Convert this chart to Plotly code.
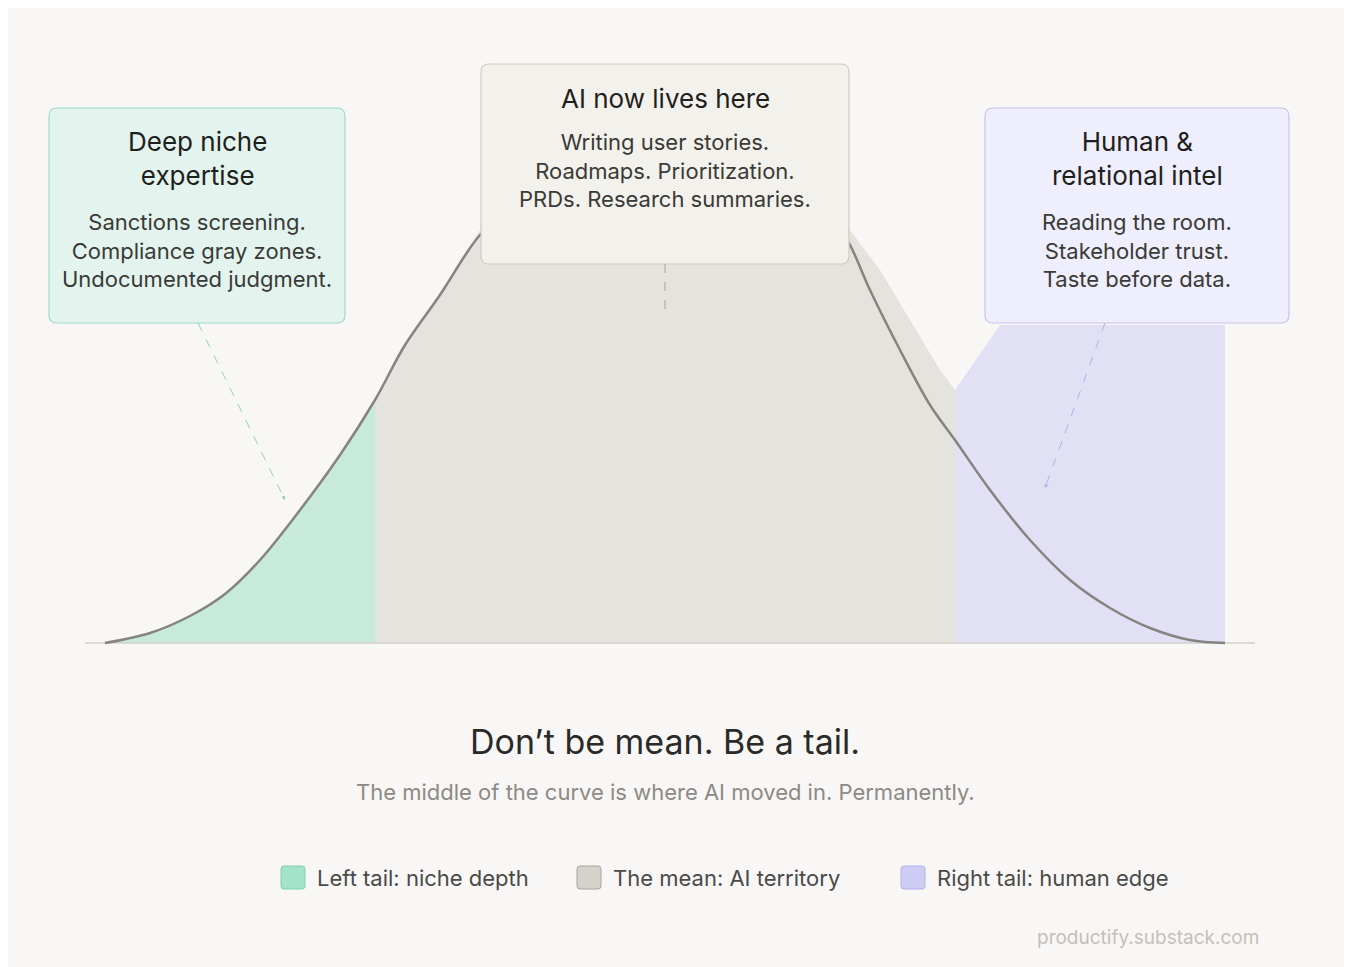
import plotly.graph_objects as go

# curve (x px, y px)
curve_x = [105, 150, 190, 225, 260, 300, 340, 375, 405, 440, 480, 520, 580, 665, 750, 810, 835, 850, 870, 900, 930, 955, 990, 1030, 1070, 1110, 1150, 1190, 1225]
curve_y = [643, 633, 616, 594, 560, 510, 455, 400, 345, 295, 235, 200, 180, 172, 180, 200, 222, 245, 290, 350, 405, 440, 490, 540, 580, 608, 628, 640, 643]

left_x = [105, 150, 190, 225, 260, 300, 340, 375, 375]
left_y = [643, 633, 616, 594, 560, 510, 455, 400, 643]

mid_x = [375, 375, 405, 440, 480, 520, 580, 665, 750, 810, 850, 880, 910, 940, 955, 955]
mid_y = [643, 400, 345, 292, 230, 198, 180, 172, 180, 198, 230, 270, 320, 370, 390, 643]

right_x = [955, 955, 1000, 1225, 1225]
right_y = [643, 390, 325, 325, 643]

legend_labels = ["Left tail: niche depth", "The mean: AI territory", "Right tail: human edge"]

font = "Inter, Lato, sans-serif"
fig = go.Figure()
fig.add_trace(go.Scatter(x=left_x, y=left_y, fill="toself", fillcolor="#c7eadd", line=dict(width=0), mode="lines", hoverinfo="skip"))
fig.add_trace(go.Scatter(x=mid_x, y=mid_y, fill="toself", fillcolor="#e5e3dd", line=dict(width=0), mode="lines", hoverinfo="skip"))
fig.add_trace(go.Scatter(x=right_x, y=right_y, fill="toself", fillcolor="#e2e0f5", line=dict(width=0), mode="lines", hoverinfo="skip"))
fig.add_trace(go.Scatter(x=[85, 1255], y=[643, 643], mode="lines", line=dict(color="#d3d0ca", width=1.5), hoverinfo="skip"))
fig.add_trace(go.Scatter(x=curve_x, y=curve_y, mode="lines", line=dict(color="#858480", width=2.5, shape="spline"), hoverinfo="skip"))


def rrect(x0, y0, x1, y1, r=8):
    return (f"M{x0+r},{y0} L{x1-r},{y0} Q{x1},{y0} {x1},{y0+r} L{x1},{y1-r} Q{x1},{y1} {x1-r},{y1} "
            f"L{x0+r},{y1} Q{x0},{y1} {x0},{y1-r} L{x0},{y0+r} Q{x0},{y0} {x0+r},{y0} Z")


boxes = [
    (49, 108, 345, 323, "#e3f4ee", "#9ddcc4"),
    (481, 64, 849, 264, "#f3f1eb", "#cfcac3"),
    (985, 108, 1289, 323, "#eeeefc", "#c6c3ef"),
]
for x0, y0, x1, y1, fc, lc in boxes:
    fig.add_shape(type="path", path=rrect(x0, y0, x1, y1), fillcolor=fc, line=dict(color=lc, width=1.2), layer="above")

arrows = [(198, 323, 285, 500, "#8fd3bb"), (665, 264, 665, 310, "#a9a59f"), (1105, 323, 1045, 488, "#b4b0e8")]
for x0, y0, x1, y1, c in arrows:
    fig.add_shape(type="line", x0=x0, y0=y0, x1=x1, y1=y1, line=dict(color=c, width=1, dash="dash"))
    dx, dy = (x1 - x0) * 0.03, (y1 - y0) * 0.03
    fig.add_annotation(x=x1, y=y1, ax=x1 - dx, ay=y1 - dy, xref="x", yref="y", axref="x", ayref="y",
                       showarrow=True, arrowhead=2, arrowsize=0.8, arrowwidth=1, arrowcolor=c, text="")

texts = [
    (197, 158, "Deep niche<br>expertise", 26, "#1f1f1d"),
    (197, 250, "Sanctions screening.<br>Compliance gray zones.<br>Undocumented judgment.", 22, "#3a3a37"),
    (665, 98, "AI now lives here", 26, "#1f1f1d"),
    (665, 170, "Writing user stories.<br>Roadmaps. Prioritization.<br>PRDs. Research summaries.", 22, "#3a3a37"),
    (1137, 158, "Human &<br>relational intel", 26, "#1f1f1d"),
    (1137, 250, "Reading the room.<br>Stakeholder trust.<br>Taste before data.", 22, "#3a3a37"),
    (665, 741, "Don\u2019t be mean. Be a tail.", 34, "#2a2a28"),
    (665, 792, "The middle of the curve is where AI moved in. Permanently.", 22, "#8d8a85"),
    (1148, 937, "productify.substack.com", 19, "#c4c0ba"),
]
for x, y, t, s, c in texts:
    fig.add_annotation(x=x, y=y, text=t, showarrow=False, font=dict(size=s, color=c, family=font),
                       xanchor="center", yanchor="middle")

swatches = [(281, "#a3e3cc", "#7fd0b3"), (577, "#d5d2cb", "#a8a49d"), (901, "#ceccf4", "#b3b0ea")]
for (x, fc, lc), lab in zip(swatches, legend_labels):
    fig.add_shape(type="path", path=rrect(x, 866, x + 24, 889, 3), fillcolor=fc, line=dict(color=lc, width=1))
    fig.add_annotation(x=x + 34, y=878, text=lab, showarrow=False, xanchor="left", yanchor="middle",
                       font=dict(size=22, color="#4a4a47", family=font))

# page body has an 8px offset; shift the axis windows to compensate
fig.update_layout(width=1352, height=967, margin=dict(l=0, r=0, t=0, b=0),
                  paper_bgcolor="#f8f7f5", plot_bgcolor="#f8f7f5", showlegend=False,
                  xaxis=dict(range=[8, 1360], visible=False, fixedrange=True),
                  yaxis=dict(range=[975, 8], visible=False, fixedrange=True))
fig.write_html("out.html")
